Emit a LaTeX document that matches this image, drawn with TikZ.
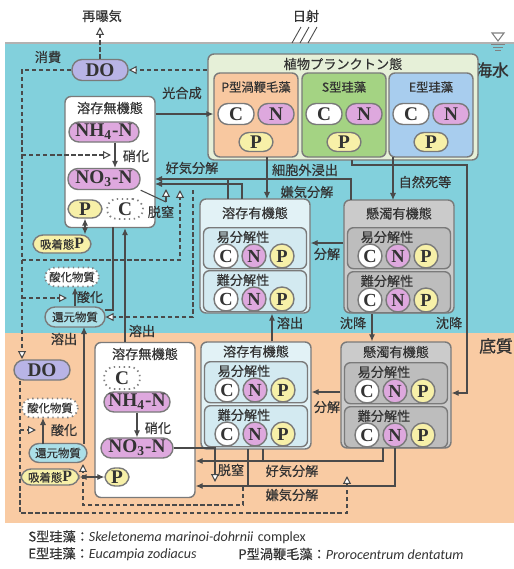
\documentclass[tikz,border=0pt]{standalone}
\usepackage{fontspec}
\setmainfont{Liberation Serif}
\newfontfamily\jp{Noto Sans CJK JP}[FakeBold=0.4]
\newfontfamily\jpb{Noto Sans CJK JP}[FakeBold=1.2]
\newfontfamily\lat{Carlito}
\usetikzlibrary{arrows.meta}
\definecolor{water}{HTML}{82D0DC}
\definecolor{sed}{HTML}{F9CBA3}
\definecolor{phy}{HTML}{E6F0D8}
\definecolor{pbox}{HTML}{F8C8A0}
\definecolor{sbox}{HTML}{A4D383}
\definecolor{ebox}{HTML}{A8CDEE}
\definecolor{dop}{HTML}{B8B4E6}
\definecolor{npink}{HTML}{DEA8DE}
\definecolor{pyel}{HTML}{F7F0A8}
\definecolor{redc}{HTML}{ABDFE8}
\definecolor{dorg}{HTML}{E2F2F6}
\definecolor{dorgi}{HTML}{D3EAF1}
\definecolor{sorg}{HTML}{CBCBCB}
\definecolor{sorgi}{HTML}{BDBDBD}
\definecolor{edge}{HTML}{7A7A7A}
\definecolor{lnc}{HTML}{4A4A4A}
\definecolor{txt}{HTML}{333333}
\tikzset{
  sz/.style 2 args={minimum width=(#1)*0.02cm, minimum height=(#2)*0.02cm},
  lbl/.style={font=\jp\fontsize{7.5}{8}\selectfont, text=txt, inner sep=0.5pt},
  box/.style={draw=edge, line width=0.8pt, rounded corners=0.12cm, inner sep=0},
  pill/.style={draw=edge, line width=0.8pt, rounded corners=0.2cm, inner sep=0, text=txt,
    font=\fontsize{11}{12}\selectfont\bfseries},
  dotpill/.style={pill, draw=gray, dotted, line width=1pt, fill=white},
  cir/.style={circle, draw=edge, line width=0.8pt, minimum size=0.48cm, inner sep=0, text=txt,
    font=\fontsize{10.5}{11}\selectfont\bfseries},
  ln/.style={draw=lnc, line width=0.6pt},
  arr/.style={ln, -{Latex[length=4pt,width=3.5pt]}},
  arrs/.style={ln, {Latex[length=4pt,width=3.5pt]}-{Latex[length=4pt,width=3.5pt]}},
  dsh/.style={draw=lnc, line width=1.1pt, dash pattern=on 2.5pt off 1.5pt},
  hol/.style={-{Triangle[length=4.5pt,width=4.5pt,fill=white,line width=0.6pt]}},
}
\newcommand\phybox[4]{%
  \node[box,fill=#3,sz={84}{84}] (#1) at (#2,115) {};
  \node[lbl,font=\jp\fontsize{7}{8}\selectfont] (#1l) at (#2,87) {#4};
  \node[pill,fill=white,sz={36}{21}] (#1C) at (#2-20,114) {C};
  \node[pill,fill=npink,sz={36}{21}] (#1N) at (#2+20,114) {N};
  \node[pill,fill=pyel,sz={34}{19}] (#1P) at (#2,142) {P};
}
\newcommand\orgbox[9]{%
  \node[box,fill=#6,sz={110}{#4-#3}] (#1) at (#2,{(#3+#4)/2}) {};
  \node[lbl] (#1t) at (#2,{(#3+#8)/2}) {#5};
  \node[box,fill=#7,sz={103}{41},anchor=north] (#1e) at (#2,#8) {};
  \node[lbl] (#1el) at (#2-12,#8+10) {易分解性};
  \node[cir,fill=white] (#1eC) at (#2-29,#8+29) {C};
  \node[cir,fill=npink] (#1eN) at (#2-1,#8+29) {N};
  \node[cir,fill=pyel] (#1eP) at (#2+27,#8+29) {P};
  \node[box,fill=#7,sz={103}{41},anchor=north] (#1d) at (#2,#9) {};
  \node[lbl] (#1dl) at (#2-12,#9+10) {難分解性};
  \node[cir,fill=white] (#1dC) at (#2-29,#9+29) {C};
  \node[cir,fill=npink] (#1dN) at (#2-1,#9+29) {N};
  \node[cir,fill=pyel] (#1dP) at (#2+27,#9+29) {P};
}
\begin{document}
\begin{tikzpicture}[x=0.02cm,y=-0.02cm]
\useasboundingbox (0,0) rectangle (514,569);
% backgrounds
\fill[water] (5,43) rectangle (514,333);
\fill[sed] (5,333) rectangle (514,523);
\draw[gray!60, line width=1.2pt] (5,43) -- (514,43);
% surface mark
\draw[gray, line width=0.6pt] (492,33) -- (504,33) -- (498,41) -- cycle;
\draw[gray, line width=0.5pt] (491,44) -- (505,44) (493,47) -- (503,47) (495,50) -- (501,50);
% sun
\draw[lnc, line width=0.5pt] (292,43) -- (301,27) (300,43) -- (309,27) (308,43) -- (317,27);

% top labels
\node[lbl] (reaer) at (102,16) {再曝気};
\node[lbl] (sun) at (306,16) {日射};
\node[font=\jpb\fontsize{9.5}{10}\selectfont, text=txt] (sea) at (492,70) {海水};
\node[font=\jpb\fontsize{9.5}{10}\selectfont, text=txt] (sedl) at (496,346) {底質};
\coordinate (reaerTip) at (100,27);

% phytoplankton
\node[box,fill=phy,sz={270}{106}] (phy) at (343,107) {};
\node[lbl] (phyt) at (343,64) {植物プランクトン態};
\phybox{pb}{256}{pbox}{P型渦鞭毛藻}
\phybox{sb}{344}{sbox}{S型珪藻}
\phybox{eb}{431}{ebox}{E型珪藻}

% DO water
\node[pill,fill=dop,sz={56}{21}] (dow) at (100,70) {DO};
\node[lbl] (consump) at (48,57) {消費};

% water inorganic
\node[box,fill=white,sz={90}{131}] (inw) at (110,162) {};
\node[lbl] (inwt) at (110,108) {溶存無機態};
\node[pill,fill=npink,sz={70}{20}] (nh4w) at (104,132) {NH\textsubscript{4}-N};
\node[pill,fill=npink,sz={72}{21}] (no3w) at (104,179) {NO\textsubscript{3}-N};
\node[pill,fill=pyel,sz={34}{18}] (pw) at (85,209) {P};
\node[dotpill,sz={36}{20}] (cw) at (125,209) {C};

% water left column
\node[pill,fill=pyel,sz={58}{18},font=\jp\fontsize{6.5}{7}\selectfont] (adpw) at (62,244) {吸着態{\rmfamily\bfseries\fontsize{9}{9}\selectfont P}};
\node[dotpill,sz={54}{19},font=\jp\fontsize{6.5}{7}\selectfont] (oxw) at (72,277) {酸化物質};
\node[pill,fill=redc,sz={60}{20},font=\jp\fontsize{6.5}{7}\selectfont] (redw) at (75,317) {還元物質};

% organic boxes
\orgbox{odw}{255}{199}{313}{溶存有機態}{dorg}{dorgi}{227}{270}
\orgbox{osw}{399}{200}{313}{懸濁有機態}{sorg}{sorgi}{227}{271}
\orgbox{ods}{256}{342}{449}{溶存有機態}{dorg}{dorgi}{361}{405}
\orgbox{oss}{396}{342}{448}{懸濁有機態}{sorg}{sorgi}{362}{406}

% sediment inorganic
\node[box,fill=white,sz={100}{155}] (ins) at (145,420) {};
\node[lbl] (inst) at (145,354) {溶存無機態};
\node[dotpill,sz={36}{22}] (cs) at (122,378) {C};
\node[pill,fill=npink,sz={66}{20}] (nh4s) at (137,402) {NH\textsubscript{4}-N};
\node[pill,fill=npink,sz={72}{20}] (no3s) at (137,448) {NO\textsubscript{3}-N};
\node[pill,fill=pyel,sz={24}{18}] (ps) at (117,477) {P};

% sediment left column
\node[pill,fill=dop,sz={56}{20}] (dos) at (42,370) {DO};
\node[dotpill,sz={56}{19},font=\jp\fontsize{6.5}{7}\selectfont] (oxs) at (50,408) {酸化物質};
\node[pill,fill=redc,sz={58}{19},font=\jp\fontsize{6.5}{7}\selectfont] (reds) at (58,453) {還元物質};
\node[pill,fill=pyel,sz={58}{16},font=\jp\fontsize{6.5}{7}\selectfont] (adps) at (50,477) {吸着態{\rmfamily\bfseries\fontsize{9}{9}\selectfont P}};

% labels
\node[lbl] (photo) at (182,93) {光合成};
\node[lbl] (nitw) at (136,156) {硝化};
\node[lbl] (denw) at (161,212) {脱窒};
\node[lbl] (aerw) at (192,168) {好気分解};
\node[lbl] (exud) at (305,170) {細胞外浸出};
\node[lbl] (anaw) at (307,192) {嫌気分解};
\node[lbl] (mort) at (425,182) {自然死等};
\node[lbl] (oxlw) at (90,297) {酸化};
\node[lbl] (decw) at (327,254) {分解};
\node[lbl] (elw) at (64,339) {溶出};
\node[lbl] (elm) at (142,331) {溶出};
\node[lbl] (elo) at (290,323) {溶出};
\node[lbl] (sink1) at (353,323) {沈降};
\node[lbl] (sink2) at (449,323) {沈降};
\node[lbl] (nits) at (158,428) {硝化};
\node[lbl] (oxls) at (64,430) {酸化};
\node[lbl] (decs) at (327,407) {分解};
\node[lbl] (dens) at (231,470) {脱窒};
\node[lbl] (aers) at (292,471) {好気分解};
\node[lbl] (anas) at (292,495) {嫌気分解};

% ---- connectors (water) ----
\draw[arr] (inw.east |- pbC) -- (pb.west |- pbC);
\draw[dsh,hol] (phy.west |- dow) -- (dow.east);
\draw[dsh,hol] (dow.north) -- (reaerTip);
\draw[dsh,hol] (dow.west) -- (22,70) -- (22,359);
\draw[dsh,hol] (22,155) -- (111,155);
\draw[arr] ([xshift=0.22cm]nh4w.south) -- ([xshift=0.22cm]no3w.north);
\draw[dsh,hol] (22,260) -- (180,260) -- (180,190);
\draw[dsh,hol] (193,190) -- (193,317) -- (redw.east);
\draw[dsh,hol] (22,298) -- (67,298);
\draw[arr] (redw.north) -- (redw.north |- oxw.south);
\draw[arrs] (adpw.north -| pw) -- (pw.south);
\draw[ln] (113,227) -- (113,310) -- (105,310);
\draw[arr] (ins.north -| cw) -- (cw |- inw.south);
\draw[arr] (84,444) -- (84,327);
\draw[ln] (no3w.south east) -- (166,202);
\draw[ln,hol] (166,202) -- (166,189);
\draw[ln] (228,199) -- (228,179);
\draw[arr] (351,200) -- (351,179) -- (155,179);
\draw[arr] (242,199) -- (242,184) -- (155,184);
\draw[arr] (267,157) -- (267,199);
\draw[arr] (393,157) -- (393,200);
\draw[arr] (352,160) -- (352,165) -- (467,165) -- (467,393) -- (oss.east |- 0,393);
\draw[arr] (osw.west |- 0,243) -- (odw.east |- 0,243);
\draw[arr] (ods.north -| 272,0) -- (odw.south -| 272,0);
\draw[arr] (osw.south -| 372,0) -- (oss.north -| 372,0);

% ---- connectors (sediment) ----
\draw[arr] (oss.west |- 0,392) -- (ods.east |- 0,392);
\draw[ln] (263,449) -- (263,461);
\draw[arr] (383,448) -- (383,461) -- (ins.east |- 0,461);
\draw[ln] (248,449) -- (248,486);
\draw[arr] (395,448) -- (395,486) -- (ins.east |- 0,486);
\draw[ln,hol] (no3s.east) -- (215,448) -- (215,482);
\draw[arr] (nh4s.south) -- (no3s.north);
\draw[arrs] (adps.east) -- (ps.west);
\draw[arr] (43,444) -- (43,418);
\draw[dsh,hol] (20,430) -- (36,430);
\draw[dsh,hol] (dos.south -| 20,0) -- (20,513) -- (347,513) -- (347,476);
\draw[dsh,hol] (243,487) -- (243,505) -- (83,505) -- (83,464);

% legend
\node[anchor=west, inner sep=0, text=txt] (leg1) at (28,537)
  {{\jp\fontsize{7.5}{8}\selectfont S型珪藻：}{\lat\fontsize{8}{9}\selectfont\itshape Skeletonema marinoi-dohrnii} {\lat\fontsize{8}{9}\selectfont complex}};
\node[anchor=west, inner sep=0, text=txt] (leg2) at (28,554)
  {{\jp\fontsize{7.5}{8}\selectfont E型珪藻：}{\lat\fontsize{8}{9}\selectfont\itshape Eucampia zodiacus}};
\node[anchor=west, inner sep=0, text=txt] (leg3) at (238,554)
  {{\jp\fontsize{7.5}{8}\selectfont P型渦鞭毛藻：}{\lat\fontsize{8}{9}\selectfont\itshape Prorocentrum dentatum}};
\end{tikzpicture}
\end{document}
